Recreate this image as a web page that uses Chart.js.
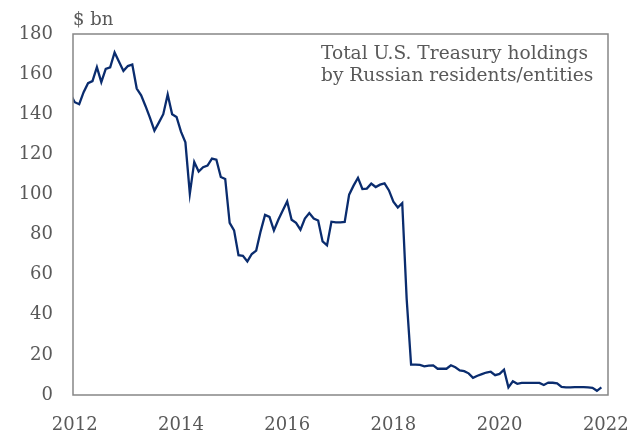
<!DOCTYPE html>
<html>
<head>
<meta charset="utf-8">
<script src="https://cdn.jsdelivr.net/npm/chart.js@4"></script>
<style>
  html, body { margin: 0; padding: 0; background: #ffffff; }
  #chart { display: block; }
</style>
</head>
<body>
<canvas id="chart" width="642" height="432"></canvas>
<script>
// monthly data, Dec 2011 .. Dec 2021 ($ bn)
const firstYear = 2011;
const firstMonth = 12;
const holdings = [
  150,
  146, 145, 151, 155.5, 156.5, 163.5, 156, 162.6, 163.4, 170.8, 166.2, 161.6,
  164, 164.8, 152.8, 149.4, 144, 138.2, 131.8, 135.8, 140, 149.8, 140, 138.6,
  131.3, 126, 100.4, 116.2, 111.4, 113.6, 114.4, 117.9, 117.3, 108.7, 107.7, 85.8,
  82.1, 69.7, 69.4, 66.6, 70.3, 72, 81.6, 89.8, 88.8, 82.1, 87.4, 92,
  96.5, 87.4, 85.8, 82.4, 88, 90.7, 88, 87, 76.6, 74.6, 86.4, 86.1,
  86.1, 86.3, 99.9, 104.4, 108.3, 102.7, 102.9, 105.4, 103.7, 104.9, 105.5, 102,
  96.4, 93.5, 95.7, 48, 15.1, 15.1, 15, 14.3, 14.6, 14.8, 13.1, 13.2,
  13.1, 14.8, 13.8, 12.3, 11.9, 10.8, 8.6, 9.6, 10.4, 11.2, 11.6, 9.9,
  10.5, 12.6, 3.8, 6.8, 5.6, 6, 6, 6, 6, 6, 5, 6.2,
  6.1, 5.8, 4, 3.8, 3.8, 3.9, 3.9, 3.9, 3.8, 3.6, 2.1, 3.8
];
const yearTicks = [2012, 2014, 2016, 2018, 2020, 2022];
const yTicks = [0, 20, 40, 60, 80, 100, 120, 140, 160, 180];
const unitLabel = "$ bn";
const boxLines = ["Total U.S. Treasury holdings", "by Russian residents/entities"];

const FONT = "'DejaVu Serif', serif";
const GREY = "#595959";

let points = [];
for (let i = 0; i < holdings.length; i++) {
  let m = firstMonth - 1 + i;
  points.push({ x: firstYear + Math.floor(m / 12) + (m % 12) / 12, y: holdings[i] });
}

const frame = {
  id: "frame",
  afterDraw(chart) {
    const a = chart.chartArea;
    const ctx = chart.ctx;
    ctx.save();
    ctx.strokeStyle = "#868686";
    ctx.lineWidth = 1.5;
    ctx.strokeRect(a.left, a.top, a.right - a.left, a.bottom - a.top);
    ctx.fillStyle = GREY;
    ctx.textBaseline = "alphabetic";
    ctx.textAlign = "left";
    ctx.font = "18px " + FONT;
    ctx.fillText(unitLabel, a.left, 25);
    ctx.font = "18.6px " + FONT;
    ctx.fillText(boxLines[0], 321, 59);
    ctx.fillText(boxLines[1], 321, 81);
    ctx.restore();
  }
};

new Chart(document.getElementById("chart"), {
  type: "line",
  data: {
    datasets: [{
      data: points,
      borderColor: "#0a2c6e",
      borderWidth: 2.3,
      pointRadius: 0,
      tension: 0,
      fill: false
    }]
  },
  options: {
    responsive: false,
    animation: false,
    layout: { padding: { top: 34, right: 34, left: 0, bottom: 0 } },
    plugins: { legend: { display: false }, tooltip: { enabled: false } },
    scales: {
      x: {
        type: "linear",
        min: 2012 - 0.4 / 12,
        max: 2022 + 0.5 / 12,
        grid: { display: false },
        border: { display: false },
        afterBuildTicks: (s) => { s.ticks = yearTicks.map(v => ({ value: v })); },
        afterFit: (s) => { s.height = 37; },
        ticks: {
          autoSkip: false,
          maxRotation: 0,
          padding: 12,
          color: GREY,
          font: { family: FONT, size: 18 },
          callback: (v) => String(v)
        }
      },
      y: {
        min: 0,
        max: 180,
        grid: { display: false },
        border: { display: false },
        afterBuildTicks: (s) => { s.ticks = yTicks.map(v => ({ value: v })); },
        afterFit: (s) => { s.width = 73; },
        ticks: {
          padding: 12,
          color: GREY,
          font: { family: FONT, size: 18 }
        }
      }
    }
  },
  plugins: [frame]
});
</script>
</body>
</html>
